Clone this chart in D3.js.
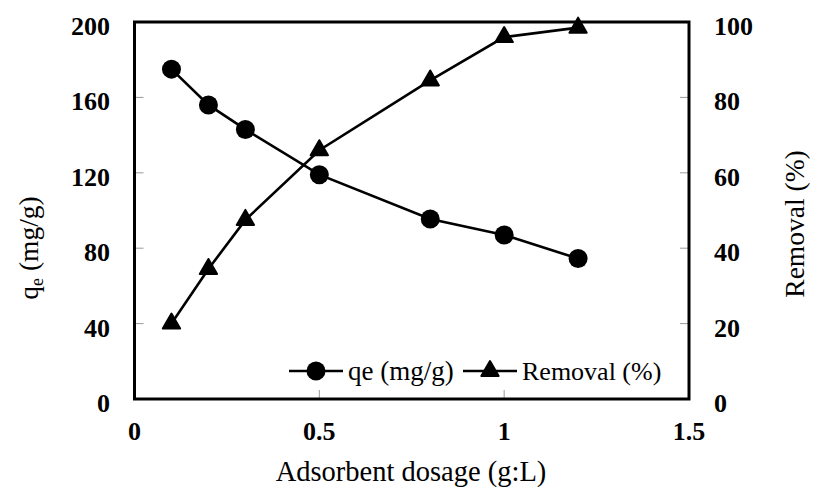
<!DOCTYPE html>
<html>
<head>
<meta charset="utf-8">
<script src="https://cdn.jsdelivr.net/npm/d3@7/dist/d3.min.js"></script>
<style>
  html, body { margin: 0; padding: 0; background: #fff; }
  svg { display: block; }
  text { font-family: "Liberation Serif", "Times New Roman", serif; fill: #000; }
</style>
</head>
<body>
<svg id="chart" width="813" height="487"></svg>
<script>
// Adsorbent dosage (g/L)
const dosage = [0.1, 0.2, 0.3, 0.5, 0.8, 1.0, 1.2];
// Adsorption capacity qe (mg/g), left axis
const qe = [175, 156, 143, 119, 95.5, 87, 74.5];
// Removal efficiency (%), right axis
const removal = [20, 34.5, 47.5, 66, 84.5, 96, 98.5];

const xTicks = [0, 0.5, 1, 1.5];
const xTickLabels = ["0", "0.5", "1", "1.5"];
const leftTicks = [0, 40, 80, 120, 160, 200];
const rightTicks = [0, 20, 40, 60, 80, 100];

const svg = d3.select("#chart");
const plot = { left: 134.5, right: 689, top: 22, bottom: 399 };

const x = d3.scaleLinear().domain([0, 1.5]).range([plot.left, plot.right]);
const yL = d3.scaleLinear().domain([0, 200]).range([plot.bottom, plot.top]);
const yR = d3.scaleLinear().domain([0, 100]).range([plot.bottom, plot.top]);

const tickColor = "#9a9a9a";

// Inward tick marks
const gTicks = svg.append("g");
gTicks.selectAll("line.lt").data(leftTicks.slice(1, -1)).join("line")
  .attr("x1", plot.left).attr("x2", plot.left + 9)
  .attr("y1", d => yL(d)).attr("y2", d => yL(d))
  .attr("stroke", tickColor).attr("stroke-width", 1);
gTicks.selectAll("line.rt").data(rightTicks.slice(1, -1)).join("line")
  .attr("x1", plot.right).attr("x2", plot.right - 9)
  .attr("y1", d => yR(d)).attr("y2", d => yR(d))
  .attr("stroke", tickColor).attr("stroke-width", 1);
gTicks.selectAll("line.bt").data(xTicks.slice(1, -1)).join("line")
  .attr("x1", d => x(d)).attr("x2", d => x(d))
  .attr("y1", plot.bottom).attr("y2", plot.bottom - 9)
  .attr("stroke", tickColor).attr("stroke-width", 1);

// Frame
svg.append("rect")
  .attr("x", plot.left).attr("y", plot.top)
  .attr("width", plot.right - plot.left).attr("height", plot.bottom - plot.top)
  .attr("fill", "none").attr("stroke", "#000").attr("stroke-width", 3);

// Tick labels
svg.append("g").selectAll("text").data(leftTicks).join("text")
  .attr("x", 110).attr("y", d => yL(d) + 13)
  .attr("text-anchor", "end").attr("font-size", 26).attr("font-weight", "bold")
  .text(d => d);
svg.append("g").selectAll("text").data(rightTicks).join("text")
  .attr("x", 714).attr("y", d => yR(d) + 13)
  .attr("text-anchor", "start").attr("font-size", 26).attr("font-weight", "bold")
  .text(d => d);
svg.append("g").selectAll("text").data(xTicks).join("text")
  .attr("x", d => x(d)).attr("y", 440)
  .attr("text-anchor", "middle").attr("font-size", 26).attr("font-weight", "bold")
  .text((d, i) => xTickLabels[i]);

// Axis titles
svg.append("text")
  .attr("x", 411).attr("y", 481)
  .attr("text-anchor", "middle").attr("font-size", 28.5)
  .text("Adsorbent dosage (g:L)");

const leftTitle = svg.append("text")
  .attr("transform", "translate(38,248) rotate(-90)")
  .attr("text-anchor", "middle").attr("font-size", 27.5);
leftTitle.append("tspan").text("q");
leftTitle.append("tspan").attr("font-size", 18).attr("dy", 5).text("e");
leftTitle.append("tspan").attr("dy", -5).text(" (mg/g)");

svg.append("text")
  .attr("transform", "translate(804,224) rotate(-90)")
  .attr("text-anchor", "middle").attr("font-size", 27.5)
  .text("Removal (%)");

// Series
const lineQe = d3.line().x((d, i) => x(dosage[i])).y(d => yL(d));
const lineRem = d3.line().x((d, i) => x(dosage[i])).y(d => yR(d));

svg.append("path").datum(removal).attr("d", lineRem)
  .attr("fill", "none").attr("stroke", "#000").attr("stroke-width", 2.6);
svg.append("path").datum(qe).attr("d", lineQe)
  .attr("fill", "none").attr("stroke", "#000").attr("stroke-width", 2.6);

const tri = d3.symbol().type(d3.symbolTriangle).size(130);

svg.append("g").selectAll("path").data(removal).join("path")
  .attr("d", tri)
  .attr("transform", (d, i) => `translate(${x(dosage[i])},${yR(d)})`)
  .attr("fill", "#000").attr("stroke", "#000").attr("stroke-width", 2).attr("stroke-linejoin", "round");

svg.append("g").selectAll("circle").data(qe).join("circle")
  .attr("cx", (d, i) => x(dosage[i])).attr("cy", d => yL(d))
  .attr("r", 9.5).attr("fill", "#000");

// Legend
const legY = 371;
const leg = svg.append("g");
leg.append("line").attr("x1", 289).attr("x2", 343).attr("y1", legY).attr("y2", legY)
  .attr("stroke", "#000").attr("stroke-width", 2.6);
leg.append("circle").attr("cx", 316).attr("cy", legY).attr("r", 9.5).attr("fill", "#000");
leg.append("text").attr("x", 348).attr("y", legY + 9).attr("font-size", 27).text("qe (mg/g)");

leg.append("line").attr("x1", 463).attr("x2", 517).attr("y1", legY).attr("y2", legY)
  .attr("stroke", "#000").attr("stroke-width", 2.6);
leg.append("path").attr("d", tri).attr("transform", `translate(490,${legY})`)
  .attr("fill", "#000").attr("stroke", "#000").attr("stroke-width", 2).attr("stroke-linejoin", "round");
leg.append("text").attr("x", 522).attr("y", legY + 9).attr("font-size", 26).text("Removal (%)");
</script>
</body>
</html>
